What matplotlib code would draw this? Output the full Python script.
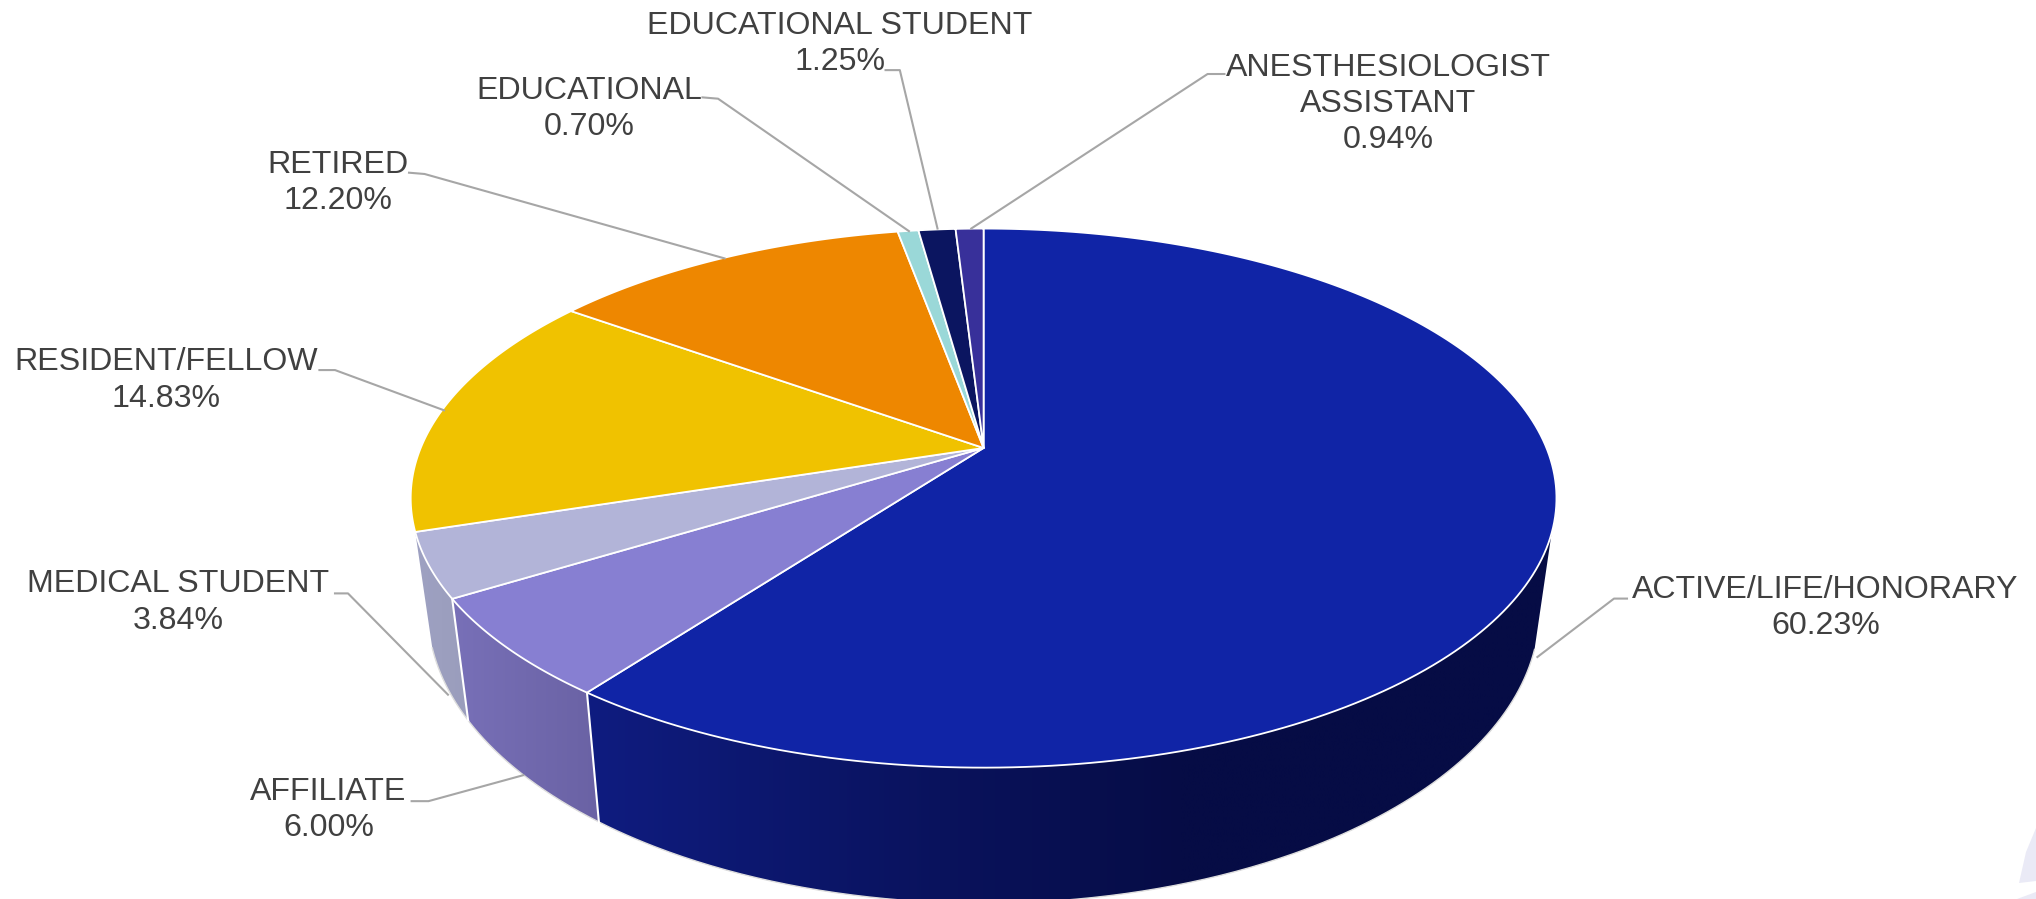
import matplotlib
matplotlib.use("Agg")
import matplotlib.pyplot as plt
import numpy as np
from matplotlib.colors import to_rgb
from matplotlib.patches import Polygon

categories = ["ACTIVE/LIFE/HONORARY", "AFFILIATE", "MEDICAL STUDENT", "RESIDENT/FELLOW",
              "RETIRED", "EDUCATIONAL", "EDUCATIONAL STUDENT", "ANESTHESIOLOGIST\nASSISTANT"]
values = [60.23, 6.00, 3.84, 14.83, 12.20, 0.70, 1.25, 0.94]

top_colors = ["#1024A6", "#877FD2", "#B2B4D8", "#F0C200", "#EE8700", "#9AD8D8", "#0B1560", "#38309A"]
wall_left = ["#0F1C80", "#7870B8", "#9EA1C2"]
wall_right = ["#060C45", "#6A62A4", "#9A9DBC"]

# label centre x, first line y, leader points (all in shrunk preview px, scaled below)
label_pos = [(1406, 454), (253, 610), (137, 450), (128, 279), (260, 127), (454, 70), (647, 20), (1069, 52)]
leaders = [
    [(1253, 461), (1243, 461), (1184, 506)],
    [(317, 617), (330, 617), (403, 597)],
    [(258, 457), (268, 457), (345, 535)],
    [(246, 285), (258, 285), (342, 316)],
    [(315, 133), (327, 134), (558, 199)],
    [(541, 75), (553, 76), (700, 178)],
    [(682, 54), (693, 54), (722, 176)],
    [(943, 57), (930, 57), (748, 176)],
]
SCALE = 2036 / 1568

# perspective model of the disc
CX, CY = 757.5 * SCALE, 345 * SCALE
A, B, K = 433.5 * SCALE, 200.4 * SCALE, 0.186
BOT_X, BOT_Y, BOT_C = 0.97, 1.083, 84 * SCALE
# the right hand silhouette of the disc, the wall starts here
WALL_START = np.radians(108)


def top_rim(theta):
    u, v = np.sin(theta), -np.cos(theta)
    d = 1 - K * v
    return A * u / d, B * v / d


def rim(theta):
    x, y = top_rim(theta)
    return np.column_stack([CX + x, CY + y])


def bottom(theta):
    x, y = top_rim(theta)
    return np.column_stack([CX + BOT_X * x, CY + BOT_Y * y + BOT_C])


fig = plt.figure(figsize=(20.36, 8.99), dpi=100)
ax = fig.add_axes([0, 0, 1, 1])
ax.axis("off")

# pale shape in the bottom right corner
ax.add_patch(Polygon([(2036, 828), (2026, 852), (2019, 883), (2036, 881)], fc="#EAEAF6", ec="none"))
ax.add_patch(Polygon([(2017, 899), (2036, 892), (2036, 899)], fc="#EAEAF6", ec="none"))

edges = np.radians(np.concatenate([[0], np.cumsum(values)]) / sum(values) * 360)

# side walls first, then the top
for i in range(len(wall_left)):
    t0, t1 = max(edges[i], WALL_START), edges[i + 1]
    ts = np.linspace(t0, t1, 300)
    up, lo = rim(ts), bottom(ts)
    outline = np.vstack([up, lo[::-1]])
    x0, x1 = outline[:, 0].min(), outline[:, 0].max()
    y0, y1 = outline[:, 1].min(), outline[:, 1].max()
    xs = np.linspace(x0, x1, 600)
    # the big wall is already dark past the middle of the disc
    right = CX + 0.35 * A if i == 0 else x1
    f = np.clip((xs - x0) / (right - x0), 0, 1)[:, None]
    c0, c1 = np.array(to_rgb(wall_left[i])), np.array(to_rgb(wall_right[i]))
    grad = (c0 + (c1 - c0) * f)[None, :, :]
    im = ax.imshow(grad, extent=(x0, x1, y1, y0), aspect="auto", interpolation="bilinear", zorder=2)
    im.set_clip_path(Polygon(outline, transform=ax.transData))
    if i < 2:
        ax.plot([up[-1, 0], lo[-1, 0]], [up[-1, 1], lo[-1, 1]], color="white", lw=1.5, zorder=3)
    ax.plot(lo[:, 0], lo[:, 1], color="#DDDDDD", lw=1, zorder=2)

for i in range(len(values)):
    ts = np.linspace(edges[i], edges[i + 1], 200)
    pts = np.vstack([[CX, CY], rim(ts)])
    ax.add_patch(Polygon(pts, closed=True, fc=top_colors[i], ec="white", lw=1.3, joinstyle="round", zorder=4))

# labels and leader lines
for i, name in enumerate(categories):
    lx, ly = label_pos[i]
    lines = name.split("\n") + [f"{values[i]:.2f}%"]
    for k, line in enumerate(lines):
        ax.text(lx * SCALE, (ly + 28 * k) * SCALE, line, ha="center", va="center",
                family="Liberation Sans", fontsize=23.1, color="#404040", zorder=6)
    pts = np.array(leaders[i]) * SCALE
    ax.plot(pts[:, 0], pts[:, 1], color="#A6A6A6", lw=1.5, zorder=5, solid_joinstyle="round")

ax.set_xlim(0, 2036)
ax.set_ylim(899, 0)
fig.savefig("out.png", dpi=100, facecolor="white")
